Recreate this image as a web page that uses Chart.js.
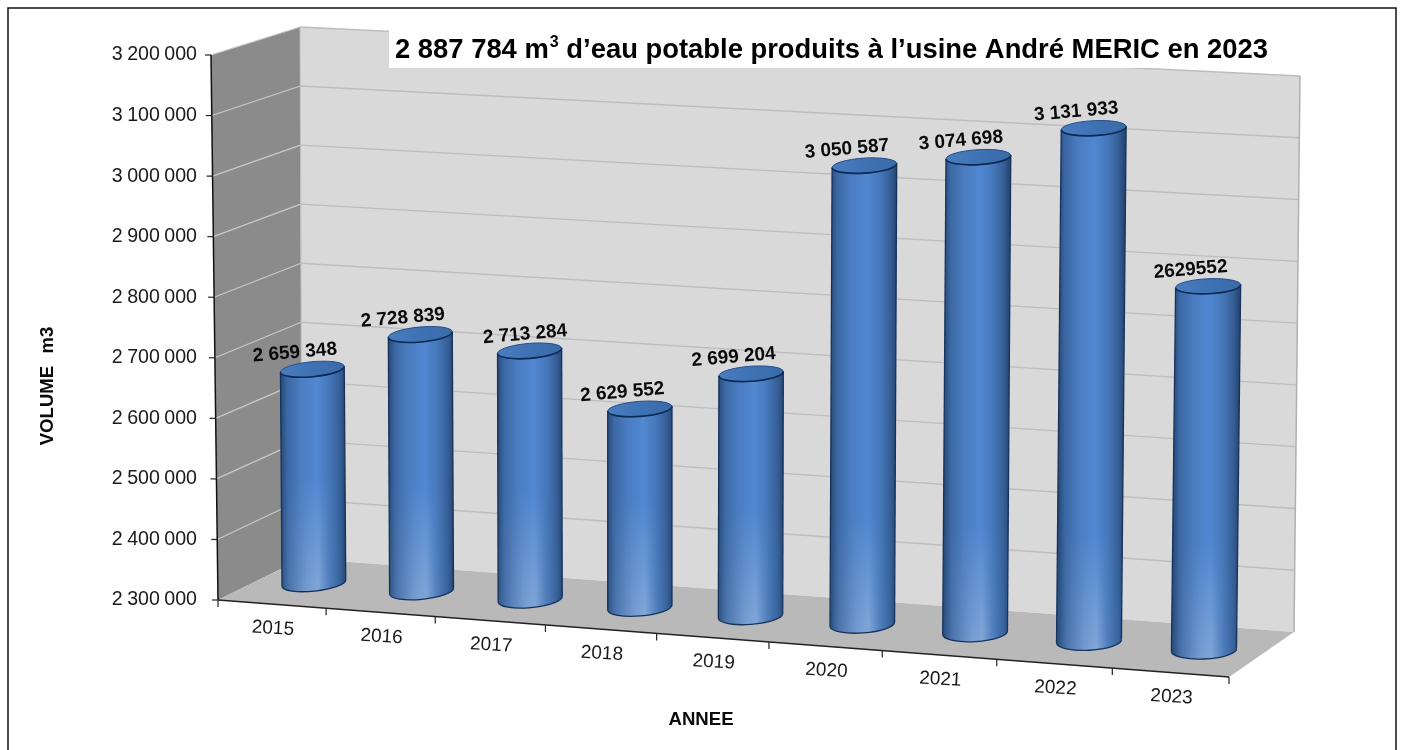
<!DOCTYPE html>
<html><head><meta charset="utf-8">
<style>html,body{margin:0;padding:0;background:#fff;overflow:hidden}canvas{display:block}</style>
<script src="https://cdn.jsdelivr.net/npm/chart.js@4"></script></head>
<body><div style="width:1402px;height:750px;position:relative"><canvas id="c" width="1402" height="750"></canvas></div>
<script>
const categories = ['2015','2016','2017','2018','2019','2020','2021','2022','2023'];
const volumes = [2659348,2728839,2713284,2629552,2699204,3050587,3074698,3131933,2887784];
const valueLabels = ['2 659 348','2 728 839','2 713 284','2 629 552','2 699 204','3 050 587','3 074 698','3 131 933','2629552'];
const yMin = 2300000, yMax = 3200000, yStep = 100000;
const yTitle = 'VOLUME m3', xTitle = 'ANNEE';
const titleRuns = ['2 887 784 m','3',' d\u2019eau potable produits à l\u2019usine André MERIC en 2023'];
const FONT = '"Liberation Sans", Arial, sans-serif';

function makeH(q){
  const [[x0,y0],[x1,y1],[x2,y2],[x3,y3]]=q;
  const dx1=x1-x2,dx2=x3-x2,sx=x0-x1+x2-x3,dy1=y1-y2,dy2=y3-y2,sy=y0-y1+y2-y3;
  const det=dx1*dy2-dx2*dy1,g=(sx*dy2-dx2*sy)/det,h=(dx1*sy-sx*dy1)/det;
  const a=x1-x0+g*x1,b=x3-x0+h*x3,d=y1-y0+g*y1,e=y3-y0+h*y3;
  return (u,v)=>{const w=g*u+h*v+1;return [(a*u+b*v+x0)/w,(d*u+e*v+y0)/w];};
}
const floorH=makeH([[218,600],[1229,677],[1294,632],[302,558.5]]);
const bil=(a,b,c,e,u,d)=>(a*(1-u)+b*u)*(1-d)+(e*(1-u)+c*u)*d;
function P(u,d,f){
  const a=floorH(u,d);
  const lean=bil(-7,8,6,-2,u,d), H=bil(545,565,556,531.5,u,d);
  return [a[0]+lean*f,a[1]-H*f];
}
function poly(ctx,pts,fill,stroke,lw){ctx.beginPath();pts.forEach((p,i)=>i?ctx.lineTo(p[0],p[1]):ctx.moveTo(p[0],p[1]));ctx.closePath();
  if(fill){ctx.fillStyle=fill;ctx.fill();} if(stroke){ctx.strokeStyle=stroke;ctx.lineWidth=lw||1;ctx.stroke();}}
function seg(ctx,a,b,col,lw){ctx.beginPath();ctx.moveTo(a[0],a[1]);ctx.lineTo(b[0],b[1]);ctx.strokeStyle=col;ctx.lineWidth=lw;ctx.stroke();}
function mix(a,b,t){return a.map((v,i)=>Math.round(v+(b[i]-v)*t));}
function ramp(stops,t){for(let i=1;i<stops.length;i++){if(t<=stops[i][0]){const s=stops[i-1],e=stops[i];return mix(s[1],e[1],(t-s[0])/(e[0]-s[0]));}}return stops[stops.length-1][1];}
const rgb=c=>`rgb(${c[0]},${c[1]},${c[2]})`;
const topRamp=[[0,[40,76,124]],[.1,[60,104,164]],[.3,[74,124,192]],[.55,[80,136,210]],[.75,[70,120,186]],[.92,[54,94,150]],[1,[38,72,118]]];
const lowRamp=[[0,[44,84,132]],[.12,[76,116,172]],[.4,[118,156,208]],[.58,[132,168,216]],[.75,[82,128,190]],[.92,[56,100,156]],[1,[40,76,122]]];

function drawWalls(chart){
  const c=chart.ctx,y=chart.scales.y,f=v=>(y.bottom-y.getPixelForValue(v))/(y.bottom-y.top);
  c.save();
  c.fillStyle='#fff';c.fillRect(0,0,1402,750);
  poly(c,[P(0,0,0),P(0,0,1),P(0,1,1),P(0,1,0)],'#8b8b8b');
  poly(c,[P(0,1,0),P(0,1,1),P(1,1,1),P(1,1,0)],'#d9d9d9');
  poly(c,[P(0,0,0),P(1,0,0),P(1,1,0),P(0,1,0)],'#b9b9b9');
  y.ticks.forEach(t=>{
    const k=f(t.value); if(k<=0) return;
    seg(c,P(0,0,k),P(0,1,k),'#c9c9c9',1.2);
    seg(c,P(0,1,k),P(1,1,k),'#bdbdbd',1.4);
  });
  seg(c,P(0,1,0),P(0,1,1),'#bcbcbc',1);
  seg(c,P(1,1,0),P(1,1,1),'#b0b0b0',1.5);
  // axes
  seg(c,P(0,0,0),P(0,0,1),'#111',1.5);
  y.ticks.forEach(t=>{const p=P(0,0,f(t.value));seg(c,[p[0]-6,p[1]],p,'#222',1.2);});
  seg(c,P(0,0,0),P(1,0,0),'#222',1.5);
  for(let i=0;i<=categories.length;i++){const p=P(i/categories.length,0,0);seg(c,p,[p[0],p[1]+7],'#222',1.2);}
  c.restore();
  c.wordSpacing='-1px'; // tick labels use tight thousands gaps
}
function drawBars(chart){
  const c=chart.ctx,y=chart.scales.y,x=chart.scales.x,meta=chart.getDatasetMeta(0);
  c.wordSpacing='0px';
  meta.data.forEach((el,i)=>{
    const u=(el.x-x.left)/(x.right-x.left),f=(y.bottom-el.y)/(y.bottom-y.top);
    const b=P(u,.5,0),t=P(u,.5,f),rx=32+u*.6;
    t[1]+=1.6;
    const rotB=(-6.2+u*3.8)*Math.PI/180,rotT=(-5.6+u*3.2)*Math.PI/180;
    const ryB=8+u*1.2,ryT=7.5;
    const outline=()=>{c.beginPath();c.ellipse(t[0],t[1],rx,ryT,rotT,Math.PI,0,false);c.ellipse(b[0],b[1],rx,ryB,rotB,0,Math.PI,false);c.closePath();};
    c.save();
    outline();c.clip();
    const x0=Math.floor(Math.min(t[0],b[0])-rx-2),x1=Math.ceil(Math.max(t[0],b[0])+rx+2),top=Math.min(t[1]-12,b[1]-12),bot=b[1]+14;
    const cx=(t[0]+b[0])/2;
    for(let px=x0;px<x1;px++){
      const k=Math.max(0,Math.min(1,(px+.5-(cx-rx))/(2*rx)));
      const g=c.createLinearGradient(0,top,0,bot);
      const lim=Math.max(0,Math.min(1,(bot-122-top)/(bot-top)));
      g.addColorStop(0,rgb(ramp(topRamp,k)));g.addColorStop(lim,rgb(ramp(topRamp,k)));g.addColorStop(1,rgb(ramp(lowRamp,k)));
      c.fillStyle=g;c.fillRect(px,top,1,bot-top);
    }
    c.restore();
    // silhouette
    const L=(p,r)=>[p[0]-rx*Math.cos(r),p[1]-rx*Math.sin(r)],R=(p,r)=>[p[0]+rx*Math.cos(r),p[1]+rx*Math.sin(r)];
    seg(c,L(t,rotT),L(b,rotB),'#16325a',1.3);seg(c,R(t,rotT),R(b,rotB),'#16325a',1.3);
    c.beginPath();c.ellipse(b[0],b[1],rx,ryB,rotB,0,Math.PI,false);c.strokeStyle='#16325a';c.lineWidth=1.3;c.stroke();
    // top cap
    c.beginPath();c.ellipse(t[0],t[1],rx,ryT,rotT,0,Math.PI*2);
    const cg=c.createLinearGradient(t[0]-rx,0,t[0]+rx,0);cg.addColorStop(0,'#4a7dbf');cg.addColorStop(.5,'#3f72b4');cg.addColorStop(1,'#3a6aa8');
    c.fillStyle=cg;c.fill();c.strokeStyle='#2b5288';c.lineWidth=1;c.stroke();
    c.beginPath();c.ellipse(t[0],t[1],rx,ryT,rotT,0,Math.PI,false);c.strokeStyle='#0d2a55';c.lineWidth=1.6;c.stroke();
    // value label: the 2017 label sits further right on the picture
    const nudge=i===2?13:0;
    c.save();c.translate(t[0]-17.5+nudge,t[1]-16.5);c.rotate(-4.9*Math.PI/180);
    c.font='bold 19px '+FONT;c.fillStyle='#0a0a0a';c.textAlign='center';c.textBaseline='middle';
    c.fillText(valueLabels[i],0,0);c.restore();
  });
}
function drawText(chart){
  const c=chart.ctx;
  c.save();
  // category labels
  c.font='19px '+FONT;c.fillStyle='#1a1a1a';c.textAlign='center';c.textBaseline='middle';
  chart.scales.x.getLabels().forEach((lab,i)=>{
    const p=P((i+.5)/categories.length,0,0);
    c.save();c.translate(p[0]+1,p[1]+24.5);c.rotate(3.4*Math.PI/180);c.fillText(lab,0,0);c.restore();
  });
  c.font='bold 18.6px '+FONT;c.fillStyle='#0a0a0a';
  c.fillText(xTitle,701,720);
  c.save();c.translate(47.5,386);c.rotate(-Math.PI/2);c.wordSpacing='7px';c.fillText(yTitle,0,0);c.restore();
  // title block
  c.fillStyle='#fff';c.fillRect(389,27,886,41);
  c.textAlign='left';c.textBaseline='alphabetic';c.fillStyle='#000';
  const big='bold 27.4px '+FONT,small='bold 16px '+FONT;
  let px=395;const base=58;
  c.font=big;c.fillText(titleRuns[0],px,base);px+=c.measureText(titleRuns[0]).width+1;
  c.font=small;c.fillText(titleRuns[1],px,base-11);px+=c.measureText(titleRuns[1]).width;
  c.font=big;c.fillText(titleRuns[2],px,base);
  // outer frame
  c.strokeStyle='#111';c.lineWidth=1.5;c.strokeRect(8,8,1388,760);
  c.restore();
}
const scene={id:'scene',
  beforeDraw:drawWalls,
  afterDatasetsDraw(chart){drawBars(chart);drawText(chart);}
};
new Chart(document.getElementById('c'),{
  type:'bar',
  data:{labels:categories,datasets:[{label:'VOLUME m3',data:volumes,backgroundColor:'rgba(0,0,0,0)',borderWidth:0}]},
  plugins:[scene],
  options:{responsive:false,animation:false,
    layout:{padding:{left:0,top:55,right:102,bottom:150}},
    plugins:{legend:{display:false},tooltip:{enabled:false},title:{display:false}},
    scales:{
      x:{display:false},
      y:{min:yMin,max:yMax,
        afterFit(s){s.width=211;},
        grid:{display:false,drawTicks:false},border:{display:false},
        ticks:{stepSize:yStep,padding:14,autoSkip:false,color:'#1a1a1a',font:{family:FONT,size:19.6},
          callback:v=>String(v).replace(/\B(?=(\d{3})+$)/g,' ')}
      }
    }
  }
});
</script></body></html>
